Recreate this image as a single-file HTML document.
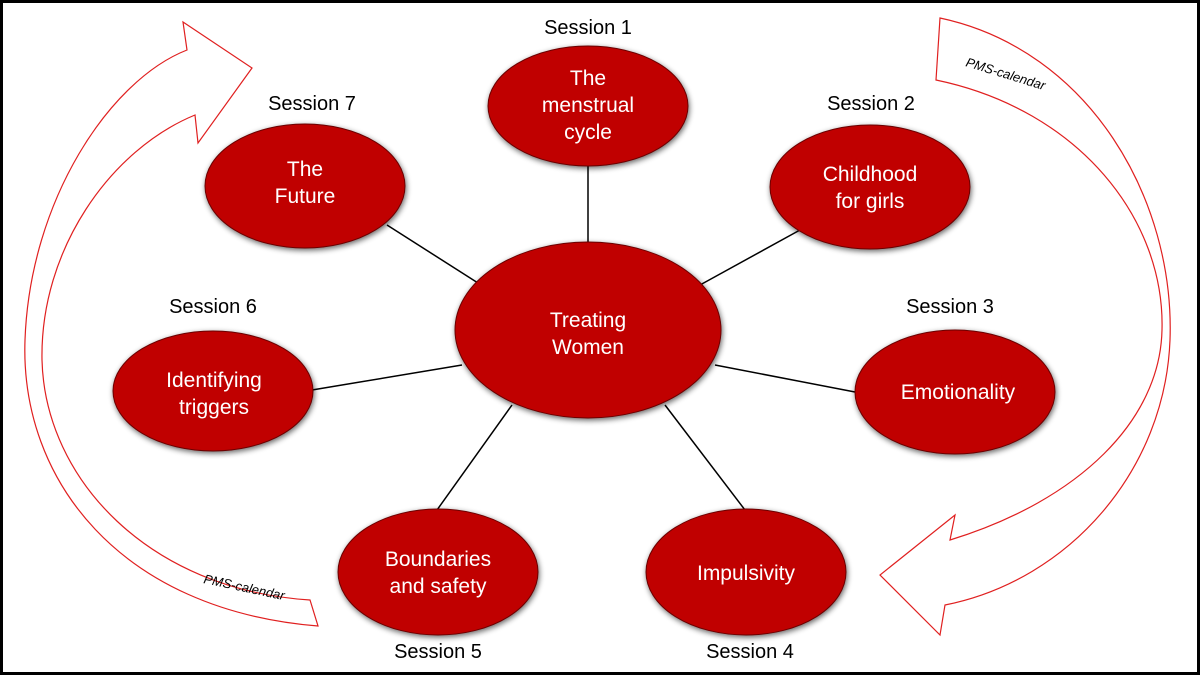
<!DOCTYPE html>
<html><head><meta charset="utf-8"><style>
html,body{margin:0;padding:0;background:#000;}
svg{display:block;}
text{font-family:"Liberation Sans",sans-serif;}
</style></head><body>
<svg width="1200" height="675" viewBox="0 0 1200 675" xmlns="http://www.w3.org/2000/svg">
<defs>
<filter id="sh" x="-20%" y="-20%" width="140%" height="140%">
<feGaussianBlur in="SourceAlpha" stdDeviation="3"/>
<feOffset dx="1" dy="2"/>
<feComponentTransfer><feFuncA type="linear" slope="0.6"/></feComponentTransfer>
<feMerge><feMergeNode/><feMergeNode in="SourceGraphic"/></feMerge>
</filter>
</defs>
<rect x="3" y="3" width="1194" height="669" fill="#fff"/>
<path d="M318,626 C120,610 20,480 25,340 C30,200 110,80 187,50 L183,22 L252,68 L198,143 L195,115 C110,150 40,250 42,360 C45,480 150,590 310,600 Z" fill="none" stroke="#e02020" stroke-width="1.2"/>
<text x="203" y="583" font-size="13" transform="rotate(12 203 583)" fill="#000" font-style="italic">PMS-calendar</text>
<path d="M940,18 C1090,50 1175,200 1170,340 C1165,470 1070,580 945,605 L940,635 L880,575 L955,515 L950,540 C1080,500 1160,420 1162,330 C1165,220 1080,110 936,80 Z" fill="none" stroke="#e02020" stroke-width="1.2"/>
<text x="965" y="66" font-size="13" transform="rotate(17 965 66)" fill="#000" font-style="italic">PMS-calendar</text>
<g stroke="#000" stroke-width="1.5">
<line x1="588" y1="165" x2="588" y2="243"/>
<line x1="800" y1="230" x2="700" y2="285"/>
<line x1="855" y1="392" x2="715" y2="365"/>
<line x1="745" y1="510" x2="665" y2="405"/>
<line x1="437" y1="510" x2="512" y2="405"/>
<line x1="312" y1="390" x2="462" y2="365"/>
<line x1="387" y1="225" x2="478" y2="283"/>
</g>
<g fill="#c00000" stroke="#6a0000" stroke-width="1" filter="url(#sh)">
<ellipse cx="588" cy="330" rx="133" ry="88"/>
<ellipse cx="588" cy="106" rx="100" ry="60"/>
<ellipse cx="870" cy="187" rx="100" ry="62"/>
<ellipse cx="955" cy="392" rx="100" ry="62"/>
<ellipse cx="746" cy="572" rx="100" ry="63"/>
<ellipse cx="438" cy="572" rx="100" ry="63"/>
<ellipse cx="213" cy="391" rx="100" ry="60"/>
<ellipse cx="305" cy="186" rx="100" ry="62"/>
</g>
<g fill="#fff" font-size="21" text-anchor="middle">
<text x="588" y="327">Treating</text><text x="588" y="354">Women</text>
<text x="588" y="85">The</text><text x="588" y="112">menstrual</text><text x="588" y="139">cycle</text>
<text x="870" y="181">Childhood</text><text x="870" y="208">for girls</text>
<text x="958" y="399">Emotionality</text>
<text x="746" y="580">Impulsivity</text>
<text x="438" y="566">Boundaries</text><text x="438" y="593">and safety</text>
<text x="214" y="387">Identifying</text><text x="214" y="414">triggers</text>
<text x="305" y="176">The</text><text x="305" y="203">Future</text>
</g>
<g fill="#000" font-size="20" text-anchor="middle">
<text x="588" y="34">Session 1</text>
<text x="871" y="110">Session 2</text>
<text x="950" y="313">Session 3</text>
<text x="750" y="658">Session 4</text>
<text x="438" y="658">Session 5</text>
<text x="213" y="313">Session 6</text>
<text x="312" y="110">Session 7</text>
</g>
</svg>
</body></html>
